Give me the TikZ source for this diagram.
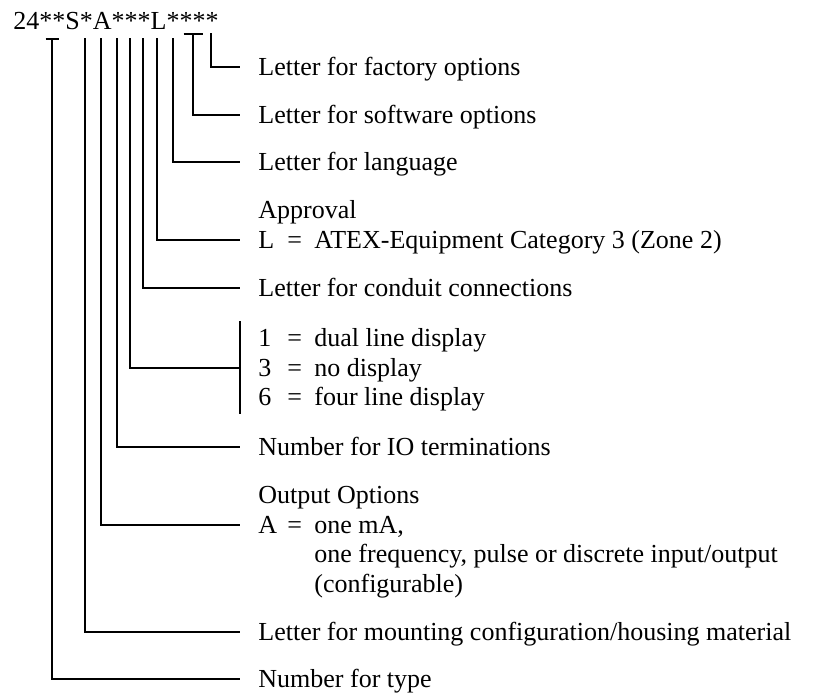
\documentclass[tikz,border=0pt]{standalone}
\usepackage{fontspec}
\setmainfont{Liberation Serif}

\newcommand{\coderow}[2]{\makebox[14.5pt][l]{#1}\makebox[13.5pt][l]{=}#2}

\begin{document}
\begin{tikzpicture}[
    x=0.5pt, y=-0.5pt,
    every node/.style={font=\fontsize{13}{15}\selectfont},
    leader/.style={draw=black, line width=0.8pt},
    desc/.style={anchor=west, inner xsep=9pt, inner ysep=1pt, text height=11.5pt, text depth=3pt}
]
    \useasboundingbox (0,0) rectangle (814,692);

    % type code
    \node [anchor=base west, inner sep=0pt] (code) at (13,29) {24**S*A***L****};

    % descriptions
    \node [desc] (factory) at (240,67) {Letter for factory options};
    \node [desc] (software) at (240,115) {Letter for software options};
    \node [desc] (language) at (240,162) {Letter for language};
    \node [desc] (approval) at (240,210) {Approval};
    \node [desc] (atex) at (240,240) {\coderow{L}{ATEX-Equipment Category 3 (Zone 2)}};
    \node [desc] (conduit) at (240,288) {Letter for conduit connections};
    \node [desc] (disp1) at (240,338) {\coderow{1}{dual line display}};
    \node [desc] (disp3) at (240,368) {\coderow{3}{no display}};
    \node [desc] (disp6) at (240,397) {\coderow{6}{four line display}};
    \node [desc] (ioterm) at (240,447) {Number for IO terminations};
    \node [desc] (outopt) at (240,495) {Output Options};
    \node [desc] (outA) at (240,525) {\coderow{A}{one mA,}};
    \node [desc] (outA2) at (240,554) {\hspace{28pt}one frequency, pulse or discrete input/output};
    \node [desc] (outA3) at (240,584) {\hspace{28pt}(configurable)};
    \node [desc] (mount) at (240,632) {Letter for mounting configuration/housing material};
    \node [desc] (type) at (240,679) {Number for type};

    % tops of the leaders below the code
    \coordinate (tType) at (52,39);
    \coordinate (tMount) at (85,38);
    \coordinate (tOut) at (101,38);
    \coordinate (tIO) at (117,38);
    \coordinate (tDisp) at (130,38);
    \coordinate (tConduit) at (143,38);
    \coordinate (tApproval) at (157,38);
    \coordinate (tLang) at (173,38);
    \coordinate (tSoft) at (193,34);
    \coordinate (tFactory) at (211,33);

    % leaders
    \draw [leader] ([xshift=-3.25pt]tType) -- ([xshift=3.25pt]tType);
    \draw [leader] (tType) |- (type.west);
    \draw [leader] (tMount) |- (mount.west);
    \draw [leader] (tOut) |- (outA.west);
    \draw [leader] (tIO) |- (ioterm.west);
    \draw [leader] (tDisp) |- (disp3.west);
    \draw [leader] (disp1.north west) -- (disp6.south west);
    \draw [leader] (tConduit) |- (conduit.west);
    \draw [leader] (tApproval) |- (atex.west);
    \draw [leader] (tLang) |- (language.west);
    \draw [leader] ([xshift=-4.75pt]tSoft) -- ([xshift=4.75pt]tSoft);
    \draw [leader] (tSoft) |- (software.west);
    \draw [leader] (tFactory) |- (factory.west);
\end{tikzpicture}
\end{document}
